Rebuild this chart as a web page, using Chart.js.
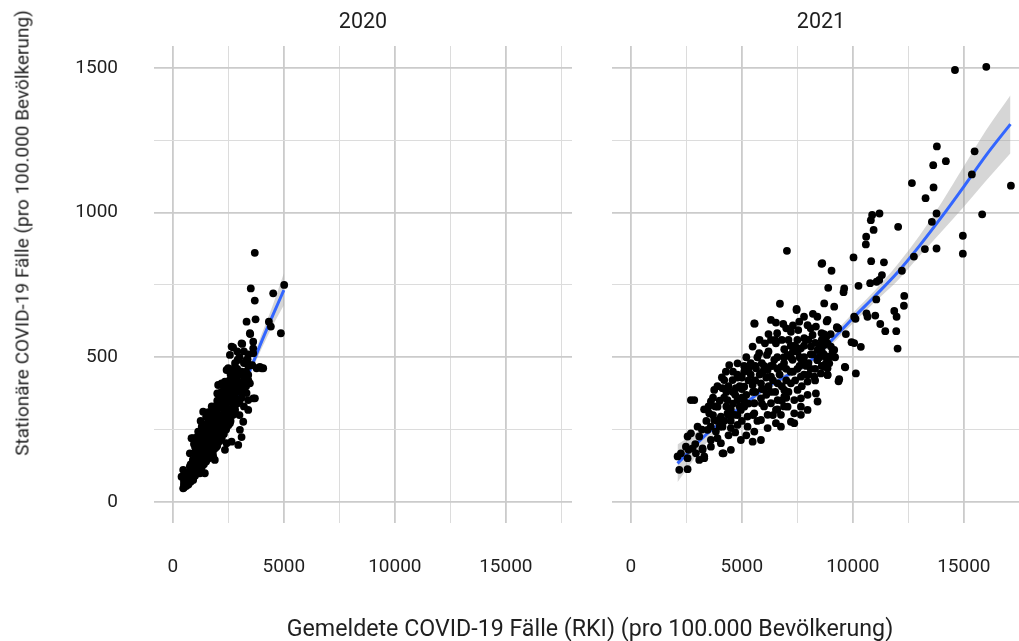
<!DOCTYPE html>
<html>
<head>
<meta charset="utf-8">
<script src="https://cdn.jsdelivr.net/npm/chart.js@4/dist/chart.umd.min.js"></script>
<style>
    html, body { margin: 0; padding: 0; background: #fff; overflow: hidden; }
    body { width: 1019px; height: 641px; position: relative; font-family: Roboto, sans-serif; color: #1f1f1f; }
    canvas { position: absolute; top: 0; }
    #c2020 { left: 0; width: 590px; height: 641px; }
    #c2021 { left: 590px; width: 450px; height: 641px; }
    .ytitle {
        position: absolute; left: 22px; top: 233px; white-space: nowrap;
        font-size: 19px; transform: translate(-50%, -50%) rotate(-90deg);
    }
    .xtitle {
        position: absolute; left: 590px; top: 628px; white-space: nowrap;
        font-size: 23.2px; transform: translate(-50%, -50%);
    }
</style>
</head>
<body>
<canvas id="c2020" width="590" height="641"></canvas>
<canvas id="c2021" width="450" height="641"></canvas>
<div class="ytitle">Stationäre COVID-19 Fälle (pro 100.000 Bevölkerung)</div>
<div class="xtitle">Gemeldete COVID-19 Fälle (RKI) (pro 100.000 Bevölkerung)</div>
<script>
// facet labels
const years = ['2020', '2021'];

// tick values (gridlines at every step, labels on the major ones)
const xTicks = [0, 2500, 5000, 7500, 10000, 12500, 15000, 17500];
const yTicks = [0, 250, 500, 750, 1000, 1250, 1500];

// [reported cases, hospitalised cases] per 100k, one per district
const pts2020 = [
    [3690,861],[5015,750],[3510,738],[4520,721],[3690,696],[3320,623],[3725,631],[4325,623],[4415,606],[4865,583],
    [3485,580],[3620,554],[3125,546],[2715,534],[2570,508],[3620,531],[3620,514],[2915,491],[3365,493],[3575,473],
    [2495,462],[2795,467],[3920,467],[3995,462],[3320,479],[3395,439],[2495,456],[2715,427],[2345,416],[2115,376],
    [2040,404],[3620,358],[3320,376],[3395,318],[3170,277],[3095,224],[2945,197],[1365,312],[1890,324],[1140,243],
    [840,220],[765,168],[465,111],[390,87],[465,47],[1440,99],[1890,145],[2345,180],[2645,208],[3470,583],
    [3095,548],[2645,537],[2945,491],[3320,491],[3470,473],[3770,462],[4070,462],[2420,456],[2795,456],[3320,433],
    [3470,410],[2195,410],[2715,421],[3020,387],[3395,352],[3695,358],[1890,318],[2420,312],[2795,312],[915,220],
    [1215,237],[1970,260],[2570,272],[3020,249],[1365,180],[1970,191],[2420,203],[765,122],[1365,133],[1815,157],
    [915,76],[1215,99],
    [500,50],[500,60],[500,70],[500,80],[600,55],[600,70],[600,90],[700,60],[700,80],[700,100],
    [800,70],[800,90],[800,110],[800,130],[900,80],[900,100],[900,120],[900,145],[1000,90],[1000,110],
    [1000,130],[1000,150],[1000,170],[1000,190],[1100,100],[1100,120],[1100,145],[1100,170],[1100,195],[1200,110],
    [1200,130],[1200,155],[1200,180],[1200,210],[1300,120],[1300,145],[1300,170],[1300,200],[1300,230],[1400,130],
    [1400,155],[1400,185],[1400,215],[1400,250],[1500,140],[1500,165],[1500,195],[1500,230],[1500,270],[1500,295],
    [1600,150],[1600,180],[1600,210],[1600,245],[1600,285],[1700,160],[1700,190],[1700,225],[1700,260],[1700,300],
    [1800,170],[1800,205],[1800,240],[1800,275],[1800,320],[1900,185],[1900,220],[1900,255],[1900,290],[1900,330],
    [2000,195],[2000,230],[2000,270],[2000,305],[2000,350],[2000,375],[2100,210],[2100,245],[2100,285],[2100,325],
    [2200,220],[2200,260],[2200,300],[2200,340],[2200,380],[2300,235],[2300,275],[2300,315],[2300,355],[2400,250],
    [2400,290],[2400,330],[2400,370],[2400,400],[2500,265],[2500,300],[2500,345],[2500,385],[2600,280],[2600,320],
    [2600,360],[2600,400],[2600,440],[2700,300],[2700,340],[2700,380],[2700,420],[2800,320],[2800,360],[2800,400],
    [2800,440],[2800,480],[2900,340],[2900,380],[2900,420],[2900,460],[3000,300],[3000,350],[3000,400],[3000,440],
    [3000,500],[3100,360],[3100,410],[3100,450],[3200,330],[3200,380],[3200,430],[3200,480],[3200,520],[3300,400],
    [3300,450],[3400,420],[3400,470],[3400,510],
    [1250,280],[1600,310],[1750,330],[2150,360],[2300,395],[2550,420],[2900,520],[1100,225],[950,200],[1300,260]
];
const pts2021 = [
    [14600,1493],[16010,1504],[13785,1229],[15485,1212],[14190,1178],[13620,1164],[15360,1132],[12660,1102],[13635,1087],[17120,1093],
    [13275,1050],[13770,997],[15825,994],[13560,968],[10870,992],[11200,997],[10810,974],[12040,951],[10935,940],[10600,917],
    [10585,890],[14955,920],[14955,858],[13770,876],[13245,874],[12750,848],[10030,845],[10825,832],[11400,828],[12210,799],
    [9040,799],[8620,825],[11310,784],[11190,767],[11070,761],[10780,756],[10255,747],[9610,738],[9580,725],[8890,740],
    [8710,686],[9160,675],[11055,700],[12315,712],[12300,678],[11865,660],[11970,640],[10615,652],[10660,640],[11010,644],
    [10120,633],[8820,624],[11235,615],[9310,600],[11460,590],[11955,590],[9685,580],[12015,530],[9940,552],[10060,549],
    [10360,536],[8710,542],[9010,537],[9085,519],[8935,502],[8785,479],[8860,462],[9640,467],[10135,444],[8860,439],
    [9385,424],[7030,868],[8590,823],[6715,685],[7465,667],[9340,600],[9655,465],[9355,417],
    [7465,663],[5575,616],[6310,629],[6535,620],[6865,615],[7585,623],[7540,594],[7960,611],[8335,606],[8860,629],
    [9280,604],[6590,583],[7210,588],[8185,577],[8590,583],[5485,537],[6040,548],[6310,560],[6535,548],[6910,528],
    [7810,566],[7660,531],[8110,537],[8410,525],[8860,548],[9160,525],[9010,502],[5780,514],[6130,508],[6460,491],
    [6760,467],[7060,508],[7285,491],[7510,519],[4430,473],[4805,479],[5105,450],[5635,462],[5935,450],[6160,456],
    [4280,450],[4205,421],[4580,421],[4730,393],[5105,398],[5485,404],[5860,410],[6310,433],[6610,410],[6910,387],
    [7210,410],[7510,387],[7660,433],[7960,416],[8260,433],[8560,444],[8860,439],[8935,479],[8710,467],[3755,387],
    [4130,393],[2855,352],[3605,347],[3905,329],[4355,352],[4805,352],[5105,329],[5560,341],[5860,358],[6310,341],
    [6610,352],[6910,364],[7360,352],[7660,358],[7960,370],[8335,375],[8410,347],[3530,306],[3755,283],[4055,295],
    [4355,306],[4655,301],[4955,318],[5255,295],[5560,306],[5860,283],[6160,301],[6535,318],[6760,301],[7060,329],
    [7360,306],[7660,329],[7960,318],[3005,260],[3455,249],[3830,243],[4130,260],[4505,255],[4805,266],[5255,260],
    [5560,243],[5860,214],[6160,255],[6535,272],[6760,260],[7210,277],[7360,272],[2555,226],[3080,226],[3605,214],
    [4055,203],[4505,180],[4955,214],[5485,208],[2480,191],[2780,185],[3230,185],[3305,157],[4130,168],[2105,157],
    [2255,168],[2555,151],[2930,168],[3080,145],[3305,151],[2180,111],[2555,113],[3230,180],[3605,191],[2705,352],
    [2705,237],[4175,168],[7660,301],[5560,617],[10060,640],
    [4000,350],[4300,380],[4600,340],[4900,400],[5200,370],[5500,380],[5800,440],[6000,390],[6200,400],[6500,380],
    [6700,440],[7000,460],[7300,450],[7600,470],[7800,500],[8000,480],[8200,510],[8500,500],[5000,430],[5300,340],
    [4500,280],[4000,260],[3800,330],[6400,470],[7100,560],[7400,540],[8000,560],[8300,460],[6900,330],[5700,280],
    [5200,230],[4700,240],[3400,280],[3300,320],[6200,520],[7000,600],[7800,640],[8200,650],
    [3500,330],[3700,360],[3900,400],[4100,430],[4300,330],[4400,400],[4600,450],[4700,370],[4900,330],[5000,280],
    [5100,470],[5300,420],[5400,480],[5600,380],[5700,500],[5900,340],[6000,470],[6100,430],[6300,380],[6400,300],
    [6600,500],[6800,400],[6900,480],[7100,380],[7200,500],[7400,420],[7500,560],[7700,400],[7800,540],[8000,440],
    [8100,600],[8300,550],[8400,490],[8600,520],[8700,580],[8800,500],[7300,610],[6800,560],[6200,580],[5800,560],
    [5200,500],[4800,300],[4200,280],[3900,220],[3600,260],[3200,250],[2900,200],[2600,180],[4400,230],[5000,360],
    [5500,300],[6000,330],[6600,320],[7000,360],[7800,440],[8600,470],[9000,580],[9200,500],[8400,640],
    [4200,360],[4500,320],[4800,430],[5100,350],[5400,440],[5600,470],[5900,390],[6100,370],[6400,420],[6600,460],
    [6800,350],[7000,420],[7200,450],[7500,460],[7700,490],[7900,470],[8100,460],[8300,420],[8500,540],[8700,510],
    [6300,470],[5600,420],[5000,390],[4600,380],[4400,300],[3700,300],[3900,280],[6900,500],[7300,520],[7600,500],
    [8100,510],[8600,560],[8800,570],[7200,540],[6500,560],[5900,480],[4800,440],[5300,460]
];

// smoothed fit with confidence band
const fitX2020 = [400, 1000, 1500, 2000, 2500, 3000, 3500, 4000, 4500, 5000];
const fit2020 = [45, 110, 160, 220, 290, 370, 460, 555, 645, 732];
const lo2020 = [30, 100, 152, 212, 280, 357, 444, 530, 610, 680];
const hi2020 = [60, 120, 168, 228, 300, 383, 476, 580, 680, 790];

const fitX2021 = [2100, 3500, 5000, 6000, 7000, 8000, 9000, 10000, 11000, 12000, 13000, 14000, 15000, 16000, 17100];
const fit2021 = [133, 240, 330, 390, 435, 482, 555, 635, 712, 792, 885, 985, 1090, 1198, 1306];
const lo2021 = [68, 212, 314, 378, 424, 470, 540, 617, 692, 764, 850, 935, 1020, 1110, 1205];
const hi2021 = [198, 268, 346, 402, 446, 494, 570, 653, 732, 820, 920, 1035, 1160, 1285, 1406];

const gridMajor = '#cbcbcb';
const gridMinor = '#dcdcdc';
const tickFont = { family: 'Roboto', size: 19 };

const stripLabel = {
    id: 'stripLabel',
    afterDraw(chart, args, opts) {
        const ctx = chart.ctx;
        const a = chart.chartArea;
        ctx.save();
        ctx.font = '21.5px Roboto';
        ctx.fillStyle = '#1f1f1f';
        ctx.textAlign = 'center';
        ctx.textBaseline = 'middle';
        ctx.fillText(opts.text, (a.left + a.right) / 2, 23);
        ctx.restore();
    }
};

function toXY(pairs) {
    return pairs.map(p => ({ x: p[0], y: p[1] }));
}

function zip(xs, ys) {
    return xs.map((x, i) => ({ x: x, y: ys[i] }));
}

function makeChart(id, year, pts, fx, fit, lo, hi, yWidth, rightPad, showY) {
    const ctx = document.getElementById(id).getContext('2d');
    return new Chart(ctx, {
        type: 'scatter',
        data: {
            datasets: [
                {
                    data: toXY(pts),
                    backgroundColor: '#000',
                    borderWidth: 0,
                    pointRadius: 3.9,
                    order: 0
                },
                {
                    data: zip(fx, fit),
                    showLine: true,
                    borderColor: '#3366ff',
                    borderWidth: 3,
                    pointRadius: 0,
                    cubicInterpolationMode: 'monotone',
                    order: 1
                },
                {
                    data: zip(fx, hi),
                    showLine: true,
                    borderWidth: 0,
                    pointRadius: 0,
                    cubicInterpolationMode: 'monotone',
                    backgroundColor: 'rgba(153,153,153,0.4)',
                    fill: '+1',
                    order: 2
                },
                {
                    data: zip(fx, lo),
                    showLine: true,
                    borderWidth: 0,
                    pointRadius: 0,
                    cubicInterpolationMode: 'monotone',
                    order: 3
                }
            ]
        },
        options: {
            responsive: false,
            animation: false,
            layout: { padding: { top: 46, right: rightPad, left: 0, bottom: 0 } },
            plugins: {
                legend: { display: false },
                tooltip: { enabled: false },
                stripLabel: { text: year }
            },
            scales: {
                x: {
                    type: 'linear',
                    min: -850,
                    max: 17980,
                    afterBuildTicks: s => { s.ticks = xTicks.map(v => ({ value: v })); },
                    afterFit: s => { s.height = 118; },
                    border: { display: false },
                    grid: {
                        drawTicks: true,
                        tickLength: 33,
                        tickColor: 'rgba(0,0,0,0)',
                        color: c => c.tick && c.tick.value % 5000 === 0 ? gridMajor : gridMinor,
                        lineWidth: c => c.tick && c.tick.value % 5000 === 0 ? 1.8 : 1
                    },
                    ticks: {
                        padding: 0,
                        maxRotation: 0,
                        autoSkip: false,
                        color: '#1f1f1f',
                        font: tickFont,
                        callback: v => v % 5000 === 0 ? String(v) : ''
                    }
                },
                y: {
                    type: 'linear',
                    min: -73,
                    max: 1576,
                    afterBuildTicks: s => { s.ticks = yTicks.map(v => ({ value: v })); },
                    afterFit: s => { s.width = yWidth; },
                    border: { display: false },
                    grid: {
                        drawTicks: true,
                        tickLength: 36,
                        tickColor: 'rgba(0,0,0,0)',
                        color: c => c.tick && c.tick.value % 500 === 0 ? gridMajor : gridMinor,
                        lineWidth: c => c.tick && c.tick.value % 500 === 0 ? 1.8 : 1
                    },
                    ticks: {
                        display: showY,
                        padding: 0,
                        color: '#1f1f1f',
                        font: tickFont,
                        callback: v => v % 500 === 0 ? String(v) : ''
                    }
                }
            }
        },
        plugins: [stripLabel]
    });
}

makeChart('c2020', years[0], pts2020, fitX2020, fit2020, lo2020, hi2020, 154, 18, true);
makeChart('c2021', years[1], pts2021, fitX2021, fit2021, lo2021, hi2021, 22, 10, false);
</script>
</body>
</html>
